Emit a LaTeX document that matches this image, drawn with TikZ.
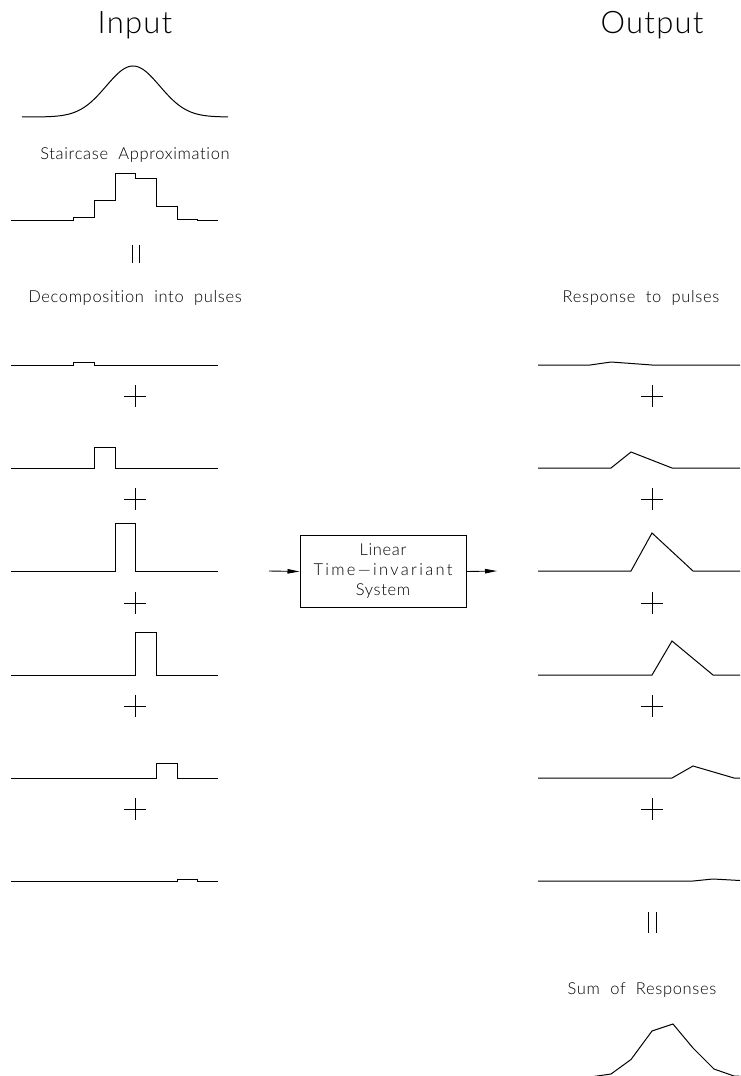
\documentclass[tikz,border=0pt]{standalone}
\usepackage{fontspec}
\setmainfont{Lato}[UprightFont={* Light},Ligatures=NoCommon]
\usepackage{tikz}
\usetikzlibrary{arrows.meta}

\begin{document}
\begin{tikzpicture}[x=1pt,y=-1pt,line width=0.9pt,
  title/.style={font=\fontsize{31}{33}\selectfont\addfontfeature{LetterSpace=4}},
  caption/.style={font=\fontsize{16.5}{20}\selectfont\addfontfeature{LetterSpace=4}},
  sig/.style={line width=1pt,line join=miter},
  flow/.style={-{Triangle[length=12pt,width=4.5pt]}}]
\useasboundingbox (0,0) rectangle (740,1076);

% headings
\node[title] (input) at (135,25) {Input};
\node[title] (output) at (652,25) {Output};
\node[caption] (stair) at (135,155) {Staircase\ \ Approximation};
\node[caption] (decomp) at (135,298) {Decomposition\ \ into\ \ pulses};
\node[caption] (resp) at (641,298) {Response\ \ to\ \ pulses};
\node[caption] (sum) at (642,990) {Sum\ \ of\ \ Responses};

% input signal and staircase
\draw[sig] plot[domain=22:228,samples=120] (\x,{117-51*exp(-((\x-133)/26.8)^2/2)});
\draw[sig] (11,220) -- (73,220) -- (73,217) -- (94,217) -- (94,200) -- (115,200)
  -- (115,173) -- (135,173) -- (135,178) -- (156,178) -- (156,206) -- (177,206)
  -- (177,219) -- (197,219) -- (197,220) -- (218,220);
\draw (132,245) -- (132,263) (139,245) -- (139,263);

% pulses
\draw[sig] (11,365) -- (73,365) -- (73,362) -- (94,362) -- (94,365) -- (218,365);
\draw[sig] (11,468) -- (94,468) -- (94,447) -- (115,447) -- (115,468) -- (218,468);
\draw[sig] (11,571) -- (115,571) -- (115,523) -- (135,523) -- (135,571) -- (218,571);
\draw[sig] (11,675) -- (135,675) -- (135,632) -- (156,632) -- (156,675) -- (218,675);
\draw[sig] (11,778) -- (156,778) -- (156,763) -- (177,763) -- (177,778) -- (218,778);
\draw[sig] (11,881) -- (177,881) -- (177,879) -- (197,879) -- (197,881) -- (218,881);

\draw (124,396) -- (146,396) (135,385) -- (135,407);
\draw (124,499) -- (146,499) (135,488) -- (135,510);
\draw (124,603) -- (146,603) (135,592) -- (135,614);
\draw (124,706) -- (146,706) (135,695) -- (135,717);
\draw (124,809) -- (146,809) (135,798) -- (135,820);

% system
\node[draw,line width=1pt,minimum width=166pt,minimum height=72pt,align=center,
  caption] (lti) at (383,571.5)
  {Linear\\{\addfontfeature{LetterSpace=14}Time---invariant}\\System};
\coordinate (in) at (269,571);
\coordinate (out) at (497,571);
\draw[flow] (in) -- (lti.west);
\draw[flow] (lti.east) -- (out);

% responses
\draw[sig] (538,365) -- (590,365) -- (611,362) -- (652,365) -- (740,365);
\draw[sig] (538,468) -- (611,468) -- (631,452) -- (672,468) -- (740,468);
\draw[sig] (538,571) -- (631,571) -- (652,533) -- (693,571) -- (740,571);
\draw[sig] (538,675) -- (652,675) -- (672,641) -- (713,675) -- (740,675);
\draw[sig] (538,778) -- (672,778) -- (693,766) -- (734,778) -- (740,778);
\draw[sig] (538,881) -- (693,881) -- (713,879) -- (740,880.5);

\draw (641,396) -- (663,396) (652,385) -- (652,407);
\draw (641,499) -- (663,499) (652,488) -- (652,510);
\draw (641,603) -- (663,603) (652,592) -- (652,614);
\draw (641,706) -- (663,706) (652,695) -- (652,717);
\draw (641,809) -- (663,809) (652,798) -- (652,820);
\draw (648,912) -- (648,933) (656,912) -- (656,933);

% sum of responses
\draw[sig] (538,1077) -- (590,1077) -- (611,1074) -- (631,1059.5) -- (652,1031)
  -- (673,1024) -- (693,1048) -- (714,1069) -- (734,1076) -- (755,1077);
\end{tikzpicture}
\end{document}
